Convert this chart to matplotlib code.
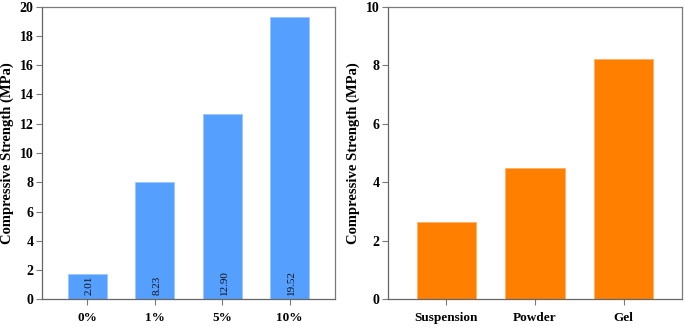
import matplotlib.pyplot as plt

# Data
pct_labels = ["0%", "1%", "5%", "10%"]
pct_heights = [1.73, 8.0, 12.67, 19.3]
pct_values_text = ["2.01", "8.23", "12.90", "19.52"]

form_labels = ["Suspension", "Powder", "Gel"]
form_heights = [2.64, 4.49, 8.22]

plt.rcParams["font.family"] = ["Liberation Serif", "DejaVu Serif"]
plt.rcParams["font.weight"] = "bold"

fig = plt.figure(figsize=(6.85, 3.27), dpi=100)
ax1 = fig.add_axes([0.0613, 0.0847, 0.4277, 0.8948])
ax2 = fig.add_axes([0.5664, 0.0847, 0.4292, 0.8948])

blue = "#55A0FF"
orange = "#FF8000"
spine_col = "#7a7a7a"


def style_axes(ax):
    for side in ["left", "bottom"]:
        ax.spines[side].set_color("#666666")
        ax.spines[side].set_linewidth(0.9)
    for side in ["top", "right"]:
        ax.spines[side].set_color(spine_col)
        ax.spines[side].set_linewidth(0.9)
    ax.tick_params(axis="both", direction="out", colors=spine_col, length=4,
                   width=0.8, labelcolor="black", pad=2)
    ax.tick_params(axis="y", labelsize=10)
    ax.tick_params(axis="x", labelsize=9.5, pad=5)
    for lab in ax.get_xticklabels() + ax.get_yticklabels():
        lab.set_fontweight("bold")
    ax.set_ylabel("Compressive Strength (MPa)", fontsize=10.5, fontweight="bold")
    ax.yaxis.set_label_coords(-0.096, 0.5)


# Left panel: concentration
x1 = list(range(len(pct_labels)))
ax1.bar(x1, pct_heights, width=0.58, color=blue, edgecolor="#9cc6ff",
        linewidth=0.6)
for xi, txt in zip(x1, pct_values_text):
    ax1.text(xi + 0.03, 0.3, txt, rotation=90, ha="center", va="bottom",
             fontsize=8, fontweight="normal", color="#111111")
ax1.set_xticks(x1)
ax1.set_xticklabels(pct_labels)
ax1.set_xlim(-0.67, 3.67)
ax1.set_ylim(0, 20)
ax1.set_yticks(range(0, 21, 2))
style_axes(ax1)

# Right panel: form
x2 = list(range(len(form_labels)))
ax2.bar(x2, form_heights, width=0.67, color=orange, edgecolor="#ffb066",
        linewidth=0.6)
ax2.set_xticks(x2)
ax2.set_xticklabels(form_labels)
ax2.set_xlim(-0.66, 2.66)
ax2.set_ylim(0, 10)
ax2.set_yticks(range(0, 11, 2))
style_axes(ax2)

fig.savefig("out.png", dpi=100)
